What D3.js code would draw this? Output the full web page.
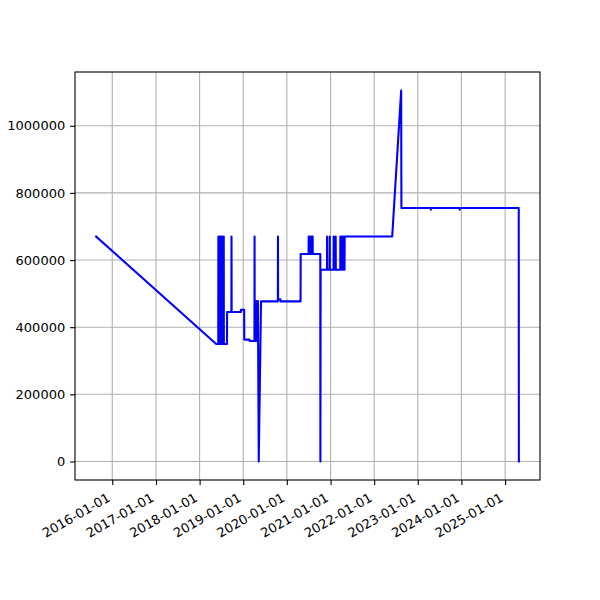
<!DOCTYPE html>
<html>
<head>
<meta charset="utf-8">
<script src="https://cdn.jsdelivr.net/npm/d3@7"></script>
<style>
  html, body { margin: 0; padding: 0; background: #ffffff; }
  svg { display: block; }
  text { font-family: "DejaVu Sans", sans-serif; fill: #000; }
</style>
</head>
<body>
<div id="chart"></div>
<script>
// ---- data ----
const dates = [
  "2015-08-19", "2018-05-20",
  "2018-06-06", "2018-06-07", "2018-06-08",
  "2018-06-15", "2018-06-16", "2018-06-17",
  "2018-06-24", "2018-06-25", "2018-06-26",
  "2018-07-03", "2018-07-04", "2018-07-05",
  "2018-07-12", "2018-07-13", "2018-07-14",
  "2018-07-21", "2018-07-22", "2018-07-23",
  "2018-08-18", "2018-08-19",
  "2018-09-24", "2018-09-25", "2018-09-26",
  "2018-12-12", "2018-12-13",
  "2019-01-09", "2019-01-10",
  "2019-02-22", "2019-02-23",
  "2019-04-05", "2019-04-06", "2019-04-07",
  "2019-04-13", "2019-04-14", "2019-04-18", "2019-04-22", "2019-04-26", "2019-04-30", "2019-05-04",
  "2019-05-11", "2019-05-30",
  "2019-10-18", "2019-10-19", "2019-10-20", "2019-11-08", "2019-11-09",
  "2020-04-25", "2020-04-26",
  "2020-07-01", "2020-07-02", "2020-07-03",
  "2020-07-10", "2020-07-11", "2020-07-12",
  "2020-07-19", "2020-07-20", "2020-07-21",
  "2020-07-28", "2020-07-29", "2020-07-30",
  "2020-08-03", "2020-08-04", "2020-08-05",
  "2020-10-07", "2020-10-08", "2020-10-10",
  "2020-12-02", "2020-12-03", "2020-12-04",
  "2020-12-24", "2020-12-25", "2020-12-26",
  "2021-01-26", "2021-01-27", "2021-01-28",
  "2021-02-12", "2021-02-13", "2021-02-14",
  "2021-03-23", "2021-03-24", "2021-03-25",
  "2021-04-01", "2021-04-02", "2021-04-03",
  "2021-04-10", "2021-04-11", "2021-04-12",
  "2021-04-19", "2021-04-20", "2021-04-21",
  "2021-04-28", "2021-04-29",
  "2022-06-01", "2022-08-15", "2022-08-17",
  "2023-04-19", "2023-04-20", "2023-04-21",
  "2023-12-16", "2023-12-17", "2023-12-18",
  "2025-04-25", "2025-04-26"
];
const values = [
  670000, 350000,
  350000, 670000, 350000,
  350000, 670000, 350000,
  350000, 670000, 350000,
  350000, 670000, 350000,
  350000, 670000, 350000,
  350000, 670000, 350000,
  350000, 445000,
  445000, 670000, 445000,
  445000, 452000,
  452000, 363000,
  363000, 359000,
  359000, 670000, 359000,
  359000, 478000, 359000, 478000, 359000, 478000, 478000,
  0, 477000,
  477000, 670000, 483000, 483000, 477000,
  477000, 618000,
  618000, 670000, 618000,
  618000, 670000, 618000,
  618000, 670000, 618000,
  618000, 670000, 618000,
  618000, 670000, 618000,
  618000, 0, 571000,
  571000, 670000, 571000,
  571000, 670000, 571000,
  571000, 670000, 571000,
  571000, 670000, 571000,
  571000, 670000, 571000,
  571000, 670000, 571000,
  571000, 670000, 571000,
  571000, 670000, 571000,
  571000, 670000,
  670000, 1105000, 755000,
  755000, 750000, 755000,
  755000, 750000, 755000,
  755000, 0
];
const yTicks = [0, 200000, 400000, 600000, 800000, 1000000];
const xTickYears = [2016, 2017, 2018, 2019, 2020, 2021, 2022, 2023, 2024, 2025];

// ---- layout ----
const W = 600, H = 600;
const L = 75, R = 540, T = 72, B = 480;
const FONT = 13;

const parse = d3.utcParse("%Y-%m-%d");
const fmt = d3.utcFormat("%Y-%m-%d");
const data = dates.map((d, i) => ({ date: parse(d), value: values[i] }));

const [dMin, dMax] = d3.extent(data, d => d.date);
const span = dMax - dMin;
const x = d3.scaleUtc()
  .domain([new Date(+dMin - 0.05 * span), new Date(+dMax + 0.05 * span)])
  .range([L, R]);

const vMin = d3.min(values), vMax = d3.max(values);
const vSpan = vMax - vMin;
const y = d3.scaleLinear()
  .domain([vMin - 0.05 * vSpan, vMax + 0.05 * vSpan])
  .range([B, T]);

const xTicks = xTickYears.map(yr => new Date(Date.UTC(yr, 0, 1)));

const svg = d3.select("#chart").append("svg")
  .attr("width", W).attr("height", H);

svg.append("rect").attr("width", W).attr("height", H).attr("fill", "#fff");

// grid
const grid = svg.append("g");
grid.selectAll("line.gx").data(xTicks).join("line")
  .attr("x1", d => x(d)).attr("x2", d => x(d))
  .attr("y1", T).attr("y2", B)
  .attr("stroke", "#b0b0b0").attr("stroke-width", 1.1);
grid.selectAll("line.gy").data(yTicks).join("line")
  .attr("x1", L).attr("x2", R)
  .attr("y1", d => y(d)).attr("y2", d => y(d))
  .attr("stroke", "#b0b0b0").attr("stroke-width", 1.1);

// clip
svg.append("clipPath").attr("id", "clip").append("rect")
  .attr("x", L).attr("y", T).attr("width", R - L).attr("height", B - T);

// line
const line = d3.line().x(d => x(d.date)).y(d => y(d.value));
svg.append("path").datum(data)
  .attr("clip-path", "url(#clip)")
  .attr("d", line)
  .attr("fill", "none")
  .attr("stroke", "#0000ff")
  .attr("stroke-width", 2.08)
  .attr("stroke-linejoin", "round")
  .attr("stroke-linecap", "square");

// axes
const tickLen = 4.9, pad = 4.9;
const xAxis = d3.axisBottom(x).tickValues(xTicks).tickFormat(fmt)
  .tickSizeInner(tickLen).tickSizeOuter(0).tickPadding(pad);
const gx = svg.append("g").attr("transform", `translate(0,${B})`).call(xAxis);
gx.select(".domain").remove();
gx.selectAll(".tick line").attr("stroke", "#000").attr("stroke-width", 1.1);
const h = FONT * 1.17;
gx.selectAll(".tick text")
  .attr("font-size", FONT)
  .attr("font-family", "DejaVu Sans, sans-serif")
  .attr("text-anchor", "end")
  .attr("y", 0).attr("dy", 0)
  .attr("transform", `translate(0,${tickLen + pad + h * Math.cos(Math.PI / 6)}) rotate(-30) translate(0,${-FONT * 0.24})`);

const yAxis = d3.axisLeft(y).tickValues(yTicks).tickFormat(d3.format("d"))
  .tickSizeInner(tickLen).tickSizeOuter(0).tickPadding(pad);
const gy = svg.append("g").attr("transform", `translate(${L},0)`).call(yAxis);
gy.select(".domain").remove();
gy.selectAll(".tick line").attr("stroke", "#000").attr("stroke-width", 1.1);
gy.selectAll(".tick text")
  .attr("font-size", FONT)
  .attr("font-family", "DejaVu Sans, sans-serif");

// frame
svg.append("rect")
  .attr("x", L).attr("y", T).attr("width", R - L).attr("height", B - T)
  .attr("fill", "none").attr("stroke", "#000").attr("stroke-width", 1.1);
</script>
</body>
</html>
